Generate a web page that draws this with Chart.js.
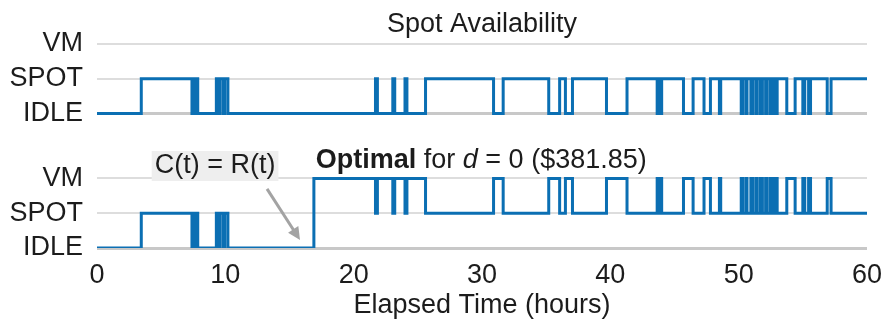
<!DOCTYPE html>
<html><head><meta charset="utf-8">
<script src="https://cdn.jsdelivr.net/npm/chart.js@4/dist/chart.umd.min.js"></script>
<style>html,body{margin:0;padding:0;background:#fff}#wrap{width:885px;height:321px;position:relative}</style>
</head><body><div id="wrap"><canvas id="c" width="885" height="321"></canvas></div>
<script>
// ---- data ----
const levelNames = ['IDLE', 'SPOT', 'VM'];
// Spot availability: time (hours) at which each state begins
const spotTimes = [0, 3.45, 7.4, 7.5, 7.6, 7.7, 7.85, 9.3, 9.5, 9.6, 9.85, 9.95, 10.2,
  21.7, 21.85, 23.05, 23.2, 24.0, 24.15, 25.6, 30.9, 31.65, 35.2, 36.05, 36.5, 37.05,
  39.7, 41.3, 43.65, 43.75, 43.85, 44.0, 45.7, 46.45, 47.3, 47.8, 48.5, 48.6,
  50.2, 50.3, 50.55, 50.65, 50.95, 51.1, 51.35, 51.45, 51.7, 51.85, 52.1, 52.2, 52.45, 52.6, 52.8, 53.0,
  53.75, 54.4, 55.0, 55.15, 55.45, 55.6, 56.9, 57.2, 60];
const spotStates = ['IDLE','SPOT','IDLE','SPOT','IDLE','SPOT','IDLE','SPOT','IDLE','SPOT','IDLE','SPOT','IDLE',
  'SPOT','IDLE','SPOT','IDLE','SPOT','IDLE','SPOT','IDLE','SPOT','IDLE','SPOT','IDLE','SPOT',
  'IDLE','SPOT','IDLE','SPOT','IDLE','SPOT','IDLE','SPOT','IDLE','SPOT','IDLE','SPOT',
  'IDLE','SPOT','IDLE','SPOT','IDLE','SPOT','IDLE','SPOT','IDLE','SPOT','IDLE','SPOT','IDLE','SPOT','IDLE','SPOT',
  'IDLE','SPOT','IDLE','SPOT','IDLE','SPOT','IDLE','SPOT','SPOT'];
// Optimal policy for d = 0
const optTimes = [0, 3.45, 7.4, 7.5, 7.6, 7.7, 7.85, 9.3, 9.5, 9.6, 9.85, 9.95, 10.2, 16.9,
  21.7, 21.85, 23.05, 23.2, 24.0, 24.15, 25.6, 30.9, 31.65, 35.2, 36.05, 36.5, 37.05,
  39.7, 41.3, 43.65, 43.75, 43.85, 44.0, 45.7, 46.45, 47.3, 47.8, 48.5, 48.6,
  50.2, 50.3, 50.55, 50.65, 50.95, 51.1, 51.35, 51.45, 51.7, 51.85, 52.1, 52.2, 52.45, 52.6, 52.8, 53.0,
  53.75, 54.4, 55.0, 55.15, 55.45, 55.6, 56.9, 57.2, 60];
const optStates = ['IDLE','SPOT','IDLE','SPOT','IDLE','SPOT','IDLE','SPOT','IDLE','SPOT','IDLE','SPOT','IDLE','VM',
  'SPOT','VM','SPOT','VM','SPOT','VM','SPOT','VM','SPOT','VM','SPOT','VM','SPOT',
  'VM','SPOT','VM','SPOT','VM','SPOT','VM','SPOT','VM','SPOT','VM','SPOT',
  'VM','SPOT','VM','SPOT','VM','SPOT','VM','SPOT','VM','SPOT','VM','SPOT','VM','SPOT','VM','SPOT',
  'VM','SPOT','VM','SPOT','VM','SPOT','VM','SPOT','SPOT'];
const xTickValues = [0, 10, 20, 30, 40, 50, 60];
const chartTitle = 'Spot Availability';
const xTitle = 'Elapsed Time (hours)';
const optimalCost = '$381.85';
const calloutText = 'C(t) = R(t)';

// ---- layout constants ----
const topOffset = 3.87;   // vertical offset of the upper panel on the shared y scale
const botOffset = 0;
const yTickValues = [0, 1, 2, topOffset, topOffset + 1, topOffset + 2];
const yTickLabels = levelNames.concat(levelNames);
const FONT = '"Liberation Sans", Arial, Helvetica, sans-serif';
const FS = 27;
const TXT = '#1c1c1c';
const BLUE = '#0b6fb3';

function toPoints(times, states, off) {
  return times.map((t, i) => ({ x: t, y: off + levelNames.indexOf(states[i]) }));
}

const annot = {
  id: 'annot',
  afterDraw(chart) {
    const { ctx, scales: { x, y } } = chart;
    ctx.save();
    // Optimal label
    let px = x.getPixelForValue(17.05), py = y.getPixelForValue(2.53);
    ctx.textBaseline = 'middle';
    ctx.textAlign = 'left';
    ctx.fillStyle = TXT;
    const parts = [['bold', 'Optimal'], ['normal', ' for '], ['italic', 'd'], ['normal', ' = 0 (' + optimalCost + ')']];
    for (const [st, s] of parts) {
      ctx.font = (st === 'bold' ? 'bold ' : st === 'italic' ? 'italic ' : '') + FS + 'px ' + FONT;
      ctx.fillText(s, px, py);
      px += ctx.measureText(s).width;
    }
    // callout box
    const cx = x.getPixelForValue(9.2), cy = y.getPixelForValue(2.36);
    ctx.font = FS + 'px ' + FONT;
    const w = ctx.measureText(calloutText).width;
    ctx.fillStyle = '#eeeeee';
    ctx.fillRect(cx - w / 2 - 3, cy - 15, w + 6, 30);
    ctx.fillStyle = TXT;
    ctx.textAlign = 'center';
    ctx.fillText(calloutText, cx, cy);
    // arrow
    const x1 = x.getPixelForValue(13.25), y1 = y.getPixelForValue(1.70);
    const x2 = x.getPixelForValue(15.82), y2 = y.getPixelForValue(0.23);
    const ang = Math.atan2(y2 - y1, x2 - x1);
    ctx.strokeStyle = '#a3a3a3';
    ctx.fillStyle = '#a3a3a3';
    ctx.lineWidth = 3;
    ctx.beginPath();
    ctx.moveTo(x1, y1);
    ctx.lineTo(x2 - 6 * Math.cos(ang), y2 - 6 * Math.sin(ang));
    ctx.stroke();
    ctx.beginPath();
    ctx.moveTo(x2, y2);
    ctx.lineTo(x2 - 14 * Math.cos(ang - 0.45), y2 - 14 * Math.sin(ang - 0.45));
    ctx.lineTo(x2 - 14 * Math.cos(ang + 0.45), y2 - 14 * Math.sin(ang + 0.45));
    ctx.closePath();
    ctx.fill();
    ctx.restore();
  }
};

new Chart(document.getElementById('c'), {
  type: 'line',
  data: {
    datasets: [
      { label: 'Spot', data: toPoints(spotTimes, spotStates, topOffset), stepped: 'before',
        borderColor: BLUE, borderWidth: 3, pointRadius: 0, fill: false },
      { label: 'Optimal', data: toPoints(optTimes, optStates, botOffset), stepped: 'before',
        borderColor: BLUE, borderWidth: 3, pointRadius: 0, fill: false }
    ]
  },
  options: {
    responsive: false,
    animation: false,
    events: [],
    layout: { padding: { left: 0, right: 18, top: 0, bottom: 0 } },
    plugins: {
      legend: { display: false },
      tooltip: { enabled: false },
      title: { display: true, text: chartTitle, fullSize: false, color: TXT,
        font: { family: FONT, size: FS, weight: 'normal' }, padding: { top: 8, bottom: 3.6 } }
    },
    scales: {
      x: {
        type: 'linear', min: 0, max: 60,
        afterBuildTicks: s => { s.ticks = xTickValues.map(v => ({ value: v })); },
        afterFit: s => { s.height = 73; s.paddingLeft = 0; s.paddingRight = 0; },
        ticks: { color: TXT, font: { family: FONT, size: FS, lineHeight: 1 }, padding: 14, maxRotation: 0 },
        grid: { display: false, drawTicks: false },
        border: { display: false },
        title: { display: true, text: xTitle, color: TXT, font: { family: FONT, size: FS, lineHeight: 1 }, padding: { top: 0, bottom: 1.5 } }
      },
      y: {
        type: 'linear', min: 0, max: topOffset + 2,
        afterBuildTicks: s => { s.ticks = yTickValues.map(v => ({ value: v })); },
        afterFit: s => { s.width = 97; s.paddingTop = 0; s.paddingBottom = 0; },
        ticks: { color: TXT, font: { family: FONT, size: FS }, padding: 14,
          callback: (v, i) => yTickLabels[i] },
        grid: {
          drawTicks: false,
          color: c => (c.tick && (c.tick.value === 0 || c.tick.value === topOffset)) ? '#c8c8c8' : '#dddddd',
          lineWidth: c => (c.tick && (c.tick.value === 0 || c.tick.value === topOffset)) ? 3 : 2
        },
        border: { display: false }
      }
    }
  },
  plugins: [annot]
});
</script></body></html>
